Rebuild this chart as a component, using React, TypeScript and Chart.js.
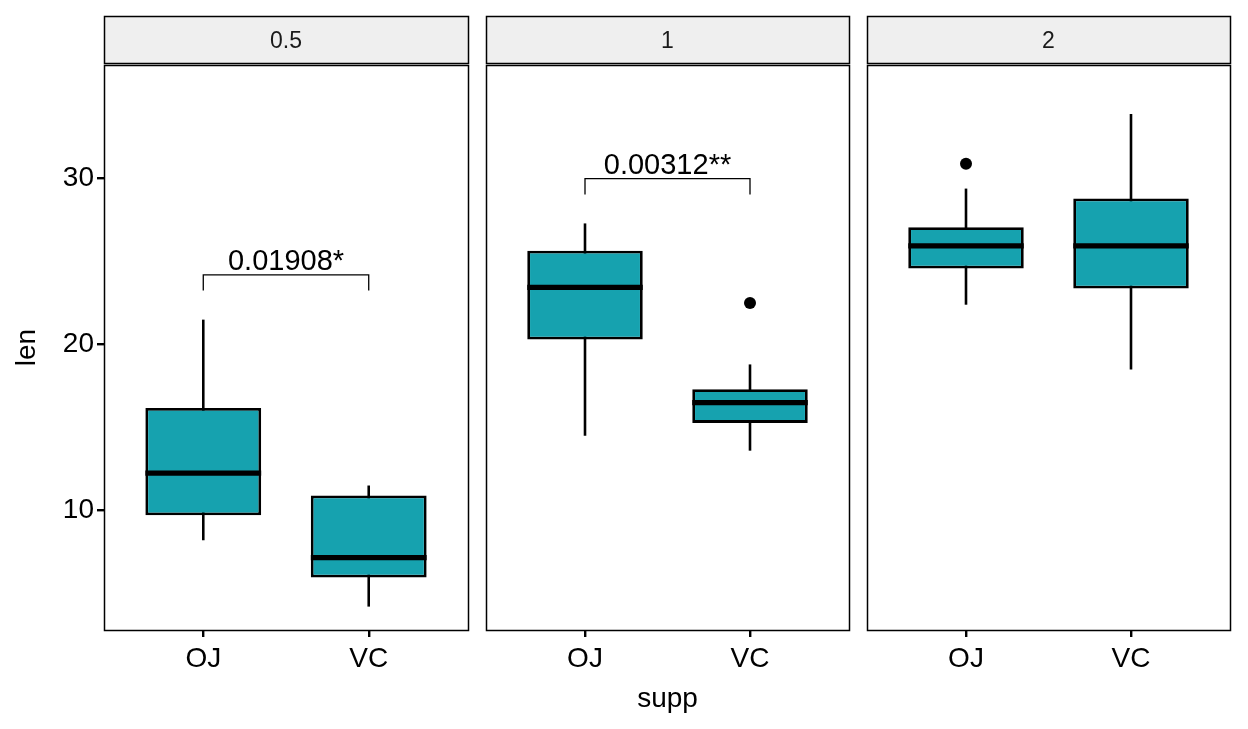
import React, { useEffect, useRef } from 'react';
import { Chart, registerables } from 'chart.js';

Chart.register(...registerables);

const W = 1248;
const H = 729;
const FONT = "'Liberation Sans', Arial, Helvetica, sans-serif";

// ToothGrowth: tooth length by supplement type, faceted by dose
const supp = ['OJ', 'VC'];
const doses = ['0.5', '1', '2'];

// Box statistics per dose (index 0 = OJ, 1 = VC)
const lowerWhisker = [[8.2, 4.2], [14.5, 13.6], [22.4, 18.5]];
const q1 = [[9.7, 5.95], [20.3, 15.275], [24.575, 23.375]];
const median = [[12.25, 7.15], [23.45, 16.5], [25.95, 25.95]];
const q3 = [[16.175, 10.9], [25.65, 17.3], [27.075, 28.8]];
const upperWhisker = [[21.5, 11.5], [27.3, 18.8], [29.4, 33.9]];
const outliers: number[][][] = [[[], []], [[], [22.5]], [[30.9], []]];

// Pairwise comparison labels (OJ vs VC) and the bracket height
const pLabels: (string | null)[] = ['0.01908*', '0.00312**', null];
const bracketY: (number | null)[] = [24.2, 30, null];

const yTicks = [10, 20, 30];
const yMin = 2.79;
const yMax = 36.85;

const FILL = '#16a2af';
const PANEL_TOP = 65;
const STRIP_TOP = 16;
const STRIP_BOTTOM = 63;
const X_AXIS_H = 99;
const Y_AXIS_W = 104;
const TICK_FONT = 28;
const TITLE_FONT = 28;
const panels = [
  { left: 104, right: 468 },
  { left: 486, right: 849 },
  { left: 867, right: 1230 },
];

const facetPlugin = {
  id: 'facet',
  beforeDatasetsDraw(chart: any, _args: any, opts: any) {
    const d = opts.index as number;
    const { ctx } = chart;
    const xs = chart.scales.x;
    const ys = chart.scales.y;
    ctx.save();
    ctx.strokeStyle = '#000';
    ctx.lineWidth = 2.6;
    supp.forEach((_s, i) => {
      const x = xs.getPixelForValue(i + 1);
      ctx.beginPath();
      ctx.moveTo(x, ys.getPixelForValue(lowerWhisker[d][i]));
      ctx.lineTo(x, ys.getPixelForValue(upperWhisker[d][i]));
      ctx.stroke();
    });
    ctx.restore();
  },
  afterDatasetsDraw(chart: any, _args: any, opts: any) {
    const d = opts.index as number;
    const { ctx } = chart;
    const xs = chart.scales.x;
    const ys = chart.scales.y;
    const meta = chart.getDatasetMeta(0);
    ctx.save();
    // medians
    ctx.strokeStyle = '#000';
    ctx.lineWidth = 5.2;
    meta.data.forEach((bar: any, i: number) => {
      const y = ys.getPixelForValue(median[d][i]);
      ctx.beginPath();
      ctx.moveTo(bar.x - bar.width / 2, y);
      ctx.lineTo(bar.x + bar.width / 2, y);
      ctx.stroke();
    });
    // comparison bracket
    const by = bracketY[d];
    const label = pLabels[d];
    if (by !== null && label) {
      const x1 = xs.getPixelForValue(1);
      const x2 = xs.getPixelForValue(2);
      const y = ys.getPixelForValue(by);
      const yTip = ys.getPixelForValue(by - 0.95);
      ctx.lineWidth = 1.3;
      ctx.beginPath();
      ctx.moveTo(x1, yTip);
      ctx.lineTo(x1, y);
      ctx.lineTo(x2, y);
      ctx.lineTo(x2, yTip);
      ctx.stroke();
      ctx.fillStyle = '#000';
      ctx.font = `29px ${FONT}`;
      ctx.textAlign = 'center';
      ctx.textBaseline = 'alphabetic';
      ctx.fillText(label, (x1 + x2) / 2, y - 5);
    }
    ctx.restore();
  },
  afterDraw(chart: any, _args: any, opts: any) {
    const d = opts.index as number;
    const { ctx, chartArea } = chart;
    const { left, right, top, bottom } = chartArea;
    ctx.save();
    // panel border
    ctx.strokeStyle = '#000';
    ctx.lineWidth = 1.5;
    ctx.strokeRect(left + 0.5, top + 0.5, right - left, bottom - top);
    // facet strip
    ctx.fillStyle = '#efefef';
    ctx.fillRect(left + 0.5, STRIP_TOP + 0.5, right - left, STRIP_BOTTOM - STRIP_TOP);
    ctx.strokeRect(left + 0.5, STRIP_TOP + 0.5, right - left, STRIP_BOTTOM - STRIP_TOP);
    ctx.fillStyle = '#1a1a1a';
    ctx.font = `23px ${FONT}`;
    ctx.textAlign = 'center';
    ctx.textBaseline = 'middle';
    ctx.fillText(doses[d], (left + right) / 2, (STRIP_TOP + STRIP_BOTTOM) / 2 + 2);
    ctx.restore();
  },
};

function FacetPanel({ index }: { index: number }) {
  const ref = useRef<HTMLCanvasElement>(null);
  useEffect(() => {
    if (!ref.current) return;
    const p = panels[index];
    const first = index === 0;
    const middle = index === 1;
    const scatterData: { x: number; y: number }[] = [];
    outliers[index].forEach((vals, i) => vals.forEach((v) => scatterData.push({ x: i + 1, y: v })));

    const chart = new Chart(ref.current, {
      type: 'bar',
      data: {
        datasets: [
          {
            type: 'bar',
            data: supp.map((_s, i) => ({ x: i + 1, y: [q1[index][i], q3[index][i]] })) as any,
            backgroundColor: FILL,
            borderColor: '#000',
            borderWidth: 2.8,
            borderSkipped: false,
            categoryPercentage: 1,
            barPercentage: 0.7,
          },
          {
            type: 'scatter',
            data: scatterData,
            backgroundColor: '#000',
            borderWidth: 0,
            pointRadius: 6,
          } as any,
        ],
      },
      options: {
        responsive: false,
        animation: false,
        devicePixelRatio: 1,
        layout: {
          padding: {
            left: first ? p.left - Y_AXIS_W : p.left,
            right: W - p.right,
            top: PANEL_TOP,
            bottom: 0,
          },
        },
        plugins: {
          legend: { display: false },
          tooltip: { enabled: false },
          facet: { index },
        } as any,
        scales: {
          x: {
            type: 'linear',
            min: 0.4,
            max: 2.6,
            offset: false,
            afterBuildTicks: (s: any) => {
              s.ticks = supp.map((_s, i) => ({ value: i + 1 }));
            },
            afterFit: (s: any) => {
              s.height = X_AXIS_H;
            },
            ticks: {
              callback: (v: any) => supp[Math.round(Number(v)) - 1] ?? '',
              color: '#000',
              font: { family: FONT, size: TICK_FONT },
              padding: 5,
              maxRotation: 0,
              autoSkip: false,
            },
            grid: {
              display: true,
              offset: false,
              drawOnChartArea: false,
              drawTicks: true,
              tickLength: 7,
              color: '#000',
              lineWidth: 2.4,
            },
            border: { display: false },
            title: {
              display: middle,
              text: 'supp',
              color: '#000',
              font: { family: FONT, size: TITLE_FONT },
              padding: { top: 0, bottom: 13 },
            },
          },
          y: {
            type: 'linear',
            display: first,
            min: yMin,
            max: yMax,
            afterBuildTicks: (s: any) => {
              s.ticks = yTicks.map((v) => ({ value: v }));
            },
            afterFit: (s: any) => {
              if (first) s.width = Y_AXIS_W;
            },
            ticks: {
              color: '#000',
              font: { family: FONT, size: TICK_FONT },
              padding: 3,
            },
            grid: {
              display: true,
              drawOnChartArea: false,
              drawTicks: true,
              tickLength: 7,
              color: '#000',
              lineWidth: 2.4,
            },
            border: { display: false },
            title: {
              display: first,
              text: 'len',
              color: '#000',
              font: { family: FONT, size: TITLE_FONT },
              padding: { top: 10, bottom: 0 },
            },
          },
        },
      },
      plugins: [facetPlugin],
    });
    return () => chart.destroy();
  }, [index]);

  return (
    <canvas
      ref={ref}
      width={W}
      height={H}
      style={{ position: 'absolute', left: 0, top: 0, width: W, height: H }}
    />
  );
}

export default function App() {
  return (
    <div
      style={{
        position: 'absolute',
        left: 0,
        top: 0,
        width: W,
        height: H,
        background: '#fff',
        overflow: 'hidden',
      }}
    >
      {doses.map((_d, i) => (
        <FacetPanel key={i} index={i} />
      ))}
    </div>
  );
}
